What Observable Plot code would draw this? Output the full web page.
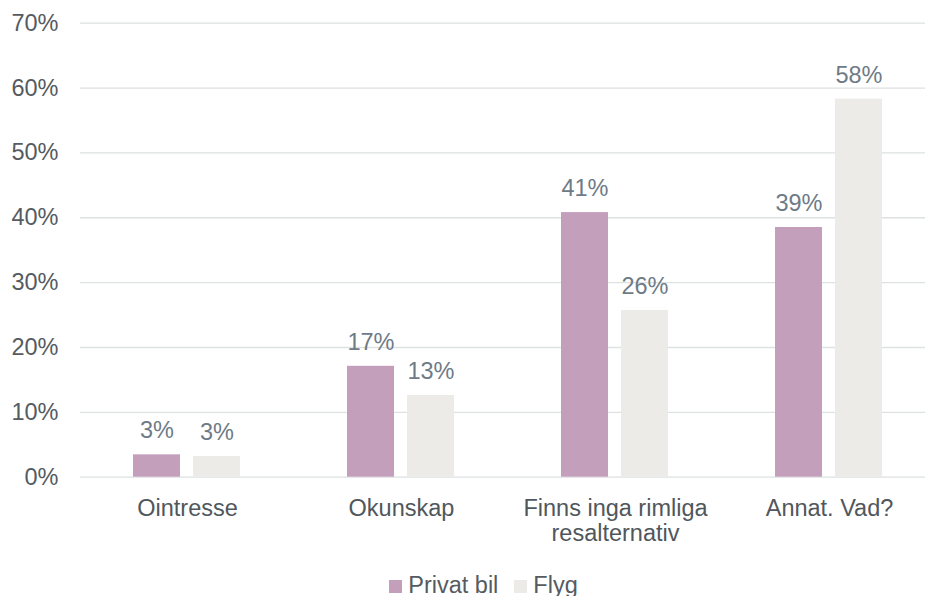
<!DOCTYPE html>
<html>
<head>
<meta charset="utf-8">
<script src="https://cdn.jsdelivr.net/npm/d3@7"></script>
<script src="https://cdn.jsdelivr.net/npm/@observablehq/plot@0.6"></script>
<style>
  html, body { margin: 0; padding: 0; background: #fff; overflow: hidden; width: 925px; }
  #chart { width: 925px; overflow: hidden; }
  .legend {
    box-sizing: border-box;
    width: 925px;
    padding-left: 42px;
    display: flex;
    justify-content: center;
    align-items: center;
    font: 23.5px "Liberation Sans", Arial, sans-serif;
    color: #555b60;
    line-height: 28px;
  }
  .legend .item { display: inline-flex; align-items: center; margin: 0 8px; }
  .legend .sw { width: 13px; height: 13px; margin-right: 6px; display: inline-block; position: relative; top: 1px; }
</style>
</head>
<body>
<div id="chart"></div>
<script>
// Reasons given, by travel mode (share of respondents, %)
const categories = ["Ointresse", "Okunskap", "Finns inga rimliga resalternativ", "Annat. Vad?"];
const categoryLabels = ["Ointresse", "Okunskap", "Finns inga rimliga\nresalternativ", "Annat. Vad?"];
const series = ["Privat bil", "Flyg"];
const privatBil = [3.45, 17.1, 40.8, 38.5];
const flyg = [3.2, 12.6, 25.7, 58.3];
const seriesColors = ["#c49fbc", "#ecebe7"];
const yTicks = [0, 10, 20, 30, 40, 50, 60, 70];

const valuesBySeries = [privatBil, flyg];
const rows = categories.flatMap((category, i) =>
  series.map((s, j) => ({category, series: s, value: valuesBySeries[j][i], label: categoryLabels[i]}))
);

const font = '"Liberation Sans", Arial, sans-serif';

// The last category group runs slightly past the right edge of the page,
// so the frame extends beyond the SVG and is clipped there.
const chart = Plot.plot({
  width: 925,
  height: 571,
  marginTop: 22.7,
  marginBottom: 94.3,
  marginLeft: 79,
  marginRight: -11.6,
  style: {fontFamily: font, fontSize: "23.5px", color: "#555b60", background: "#fff", overflow: "hidden"},
  facet: {data: rows, x: "category"},
  fx: {domain: categories, padding: 0, axis: null},
  x: {domain: series, paddingInner: 0.209, paddingOuter: 0.87, axis: null},
  y: {domain: [0, 70], ticks: yTicks, tickSize: 0, tickPadding: 22, tickFormat: d => d + "%", label: null},
  color: {domain: series, range: seriesColors},
  marks: [
    Plot.ruleY(yTicks, {stroke: "#dde1e1", strokeWidth: 1.3, facet: false}),
    Plot.barY(rows, {x: "series", y: "value", fill: "series"}),
    Plot.text(rows, {
      x: "series", y: "value",
      text: d => Math.round(d.value) + "%",
      lineAnchor: "bottom", dy: -16.5,
      fill: "#6e7b86", fontSize: 23.5
    }),
    Plot.text(rows, {
      filter: d => d.series === series[0],
      text: "label",
      frameAnchor: "bottom",
      lineAnchor: "top",
      dy: 21.3,
      lineHeight: 1.07,
      fill: "#50575c", fontSize: 23.5
    })
  ]
});

const holder = document.getElementById("chart");
holder.appendChild(chart);

// Legend below the chart, built from the same series and colours
const legend = document.createElement("div");
legend.className = "legend";
series.forEach((s, i) => {
  const item = document.createElement("span");
  item.className = "item";
  const sw = document.createElement("span");
  sw.className = "sw";
  sw.style.background = seriesColors[i];
  item.appendChild(sw);
  item.appendChild(document.createTextNode(s));
  legend.appendChild(item);
});
document.body.appendChild(legend);
</script>
</body>
</html>
